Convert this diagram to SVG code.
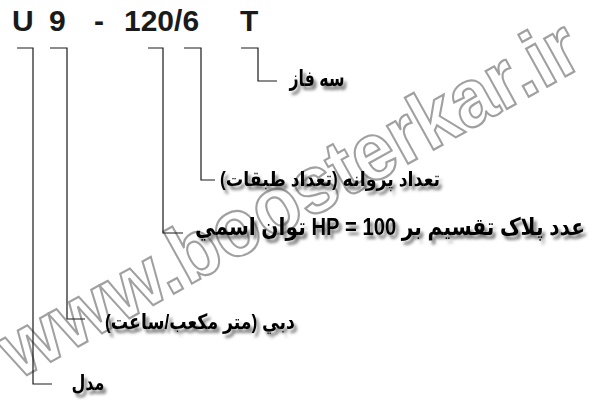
<svg xmlns="http://www.w3.org/2000/svg" width="592" height="403" viewBox="0 0 592 403">
<defs>
<filter id="sh" x="-10%" y="-40%" width="130%" height="200%">
<feDropShadow dx="3" dy="4" stdDeviation="1.6" flood-color="#555" flood-opacity="0.75"/>
</filter>
</defs>
<style>
.wm{font-family:"Liberation Sans","DejaVu Sans",sans-serif;font-weight:bold;font-size:82px;fill:#fff;stroke:#a0a0a0;stroke-width:2.2}
.code{font-family:"Liberation Sans",Arial,sans-serif;font-weight:bold;font-size:30px;fill:#1a1a1a}
.lbl{font-family:"Liberation Sans","DejaVu Sans",sans-serif;font-weight:bold;fill:#000;filter:url(#sh)}
.ln{fill:none;stroke:#1a1a1a;stroke-width:1.2}
</style>
<rect width="592" height="403" fill="#fff"/>
<g id="watermark">
<text class="wm" x="18" y="380" transform="rotate(-29 18 380)" textLength="650" lengthAdjust="spacingAndGlyphs">www.boosterkar.ir</text>
</g>
<g id="code">
<text class="code" x="12" y="31">U</text>
<text class="code" x="49" y="31" fill="#000">9</text>
<text class="code" x="94" y="31">-</text>
<text class="code" x="124" y="31">120/6</text>
<text class="code" x="240" y="31">T</text>
</g>
<g id="connectors">
<path class="ln" d="M17 48H33V384H52"/>
<path class="ln" d="M50 48H67V319H85"/>
<path class="ln" d="M148 48H163V233H183"/>
<path class="ln" d="M184 48H201V180H215"/>
<path class="ln" d="M241 48H258V81H277"/>
</g>
<g id="n-phase">
<text class="lbl" x="317" y="86" font-size="22" text-anchor="middle" direction="rtl" unicode-bidi="embed" textLength="55" lengthAdjust="spacingAndGlyphs">سه فاز</text>
</g>
<g id="n-stages">
<text class="lbl" x="330" y="186" font-size="20" text-anchor="middle" direction="rtl" unicode-bidi="embed" textLength="220" lengthAdjust="spacingAndGlyphs">تعداد پروانه (تعداد طبقات)</text>
</g>
<g id="n-power">
<text class="lbl" x="390" y="235" font-size="24" text-anchor="middle" direction="rtl" unicode-bidi="embed" textLength="390" lengthAdjust="spacingAndGlyphs">عدد پلاک تقسیم بر 100 = HP توان اسمي</text>
</g>
<g id="n-flow">
<text class="lbl" x="200" y="329" font-size="21" text-anchor="middle" direction="rtl" unicode-bidi="embed" textLength="190" lengthAdjust="spacingAndGlyphs">دبي (متر مکعب/ساعت)</text>
</g>
<g id="n-model">
<text class="lbl" x="88" y="390" font-size="21" text-anchor="middle" direction="rtl" unicode-bidi="embed" textLength="33" lengthAdjust="spacingAndGlyphs">مدل</text>
</g>
</svg>
